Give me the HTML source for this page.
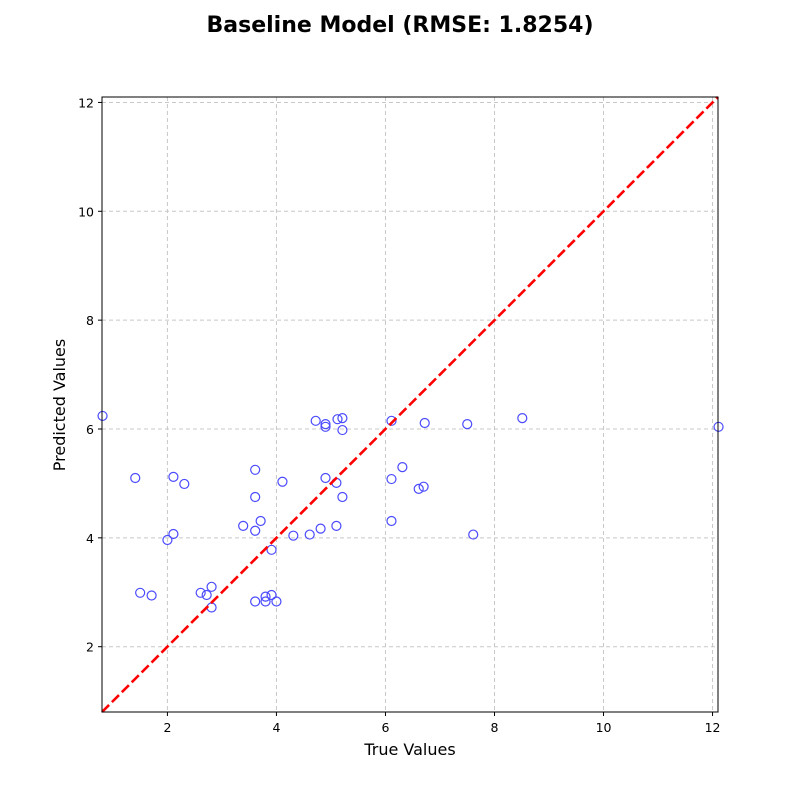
<!DOCTYPE html>
<html><head><meta charset="utf-8"><style>
body{margin:0;background:#fff;}
svg{display:block;font-family:"DejaVu Sans","Liberation Sans",sans-serif;}
</style></head><body>
<svg id="chart" width="800" height="800">
<text x="400" y="32" text-anchor="middle" font-size="22" font-weight="bold">Baseline Model (RMSE: 1.8254)</text>
<g id="grid"></g>
<g id="points"></g>
<g id="diag"></g>
<rect x="102" y="97" width="616" height="615" fill="none" stroke="#000" stroke-width="1"/>
<g id="ticks"></g>
<text x="410" y="755" text-anchor="middle" font-size="16">True Values</text>
<text transform="translate(65,405) rotate(-90)" text-anchor="middle" font-size="16">Predicted Values</text>
</svg>
<script>
const trueVals=[0.81,1.41,1.50,1.71,2.0,2.11,2.11,2.31,2.61,2.72,2.81,2.81,3.39,3.61,3.61,3.61,3.61,3.71,3.80,3.80,3.91,3.91,4.0,4.11,4.31,4.61,4.72,4.81,4.90,4.90,4.90,5.10,5.10,5.12,5.21,5.21,5.21,6.11,6.11,6.11,6.31,6.61,6.70,6.72,7.50,7.61,8.51,12.11];
const predVals=[6.24,5.10,2.99,2.94,3.96,4.07,5.12,4.99,2.99,2.95,3.10,2.72,4.22,5.25,4.75,4.13,2.83,4.31,2.92,2.83,3.78,2.95,2.83,5.03,4.04,4.06,6.15,4.17,6.09,6.04,5.10,5.01,4.22,6.18,6.20,5.98,4.75,6.15,5.08,4.31,5.30,4.90,4.94,6.11,6.09,4.06,6.20,6.04];
const xTicks=[2,4,6,8,10,12];
const yTicks=[2,4,6,8,10,12];
const xMin=0.8,xMax=12.1,yMin=0.8,yMax=12.1;
const L=102,R=718,T=97,B=712;
const sx=v=>L+(v-xMin)/(xMax-xMin)*(R-L);
const sy=v=>B-(v-yMin)/(yMax-yMin)*(B-T);
const NS="http://www.w3.org/2000/svg";
function mk(tag,attrs,parent){const e=document.createElementNS(NS,tag);for(const k in attrs)e.setAttribute(k,attrs[k]);document.getElementById(parent).appendChild(e);return e;}
xTicks.forEach(t=>{
  const g=mk('line',{x1:sx(t),x2:sx(t),y1:T,y2:B,stroke:'#c8c8c8','stroke-dasharray':'4,3','stroke-width':1},'grid');
  
  
  const tk=mk('line',{x1:sx(t),x2:sx(t),y1:B,y2:B+4,stroke:'#000'},'ticks');
  
  
  const lb=mk('text',{x:sx(t),y:B+20,'text-anchor':'middle','font-size':12.5},'ticks');
  lb.textContent=t;
  
  
});
yTicks.forEach(t=>{
  const g=mk('line',{x1:L,x2:R,y1:sy(t),y2:sy(t),stroke:'#c8c8c8','stroke-dasharray':'4,3','stroke-width':1},'grid');
  
  
  const tk=mk('line',{x1:L-4,x2:L,y1:sy(t),y2:sy(t),stroke:'#000'},'ticks');
  
  
  const lb=mk('text',{x:L-8,y:sy(t)+5,'text-anchor':'end','font-size':12.5},'ticks');
  lb.textContent=t;
  
  
});
trueVals.forEach((v,i)=>{
  const c=mk('circle',{cx:sx(v),cy:sy(predVals[i]),r:4.5,fill:'none',stroke:'#4a4aff','stroke-width':1.2},'points');
  
  
});
const d=mk('line',{x1:sx(xMin),y1:sy(xMin),x2:sx(xMax),y2:sy(xMax),stroke:'#ff0000','stroke-width':2.6,'stroke-dasharray':'10,4'},'diag');


</script>
</body></html>
